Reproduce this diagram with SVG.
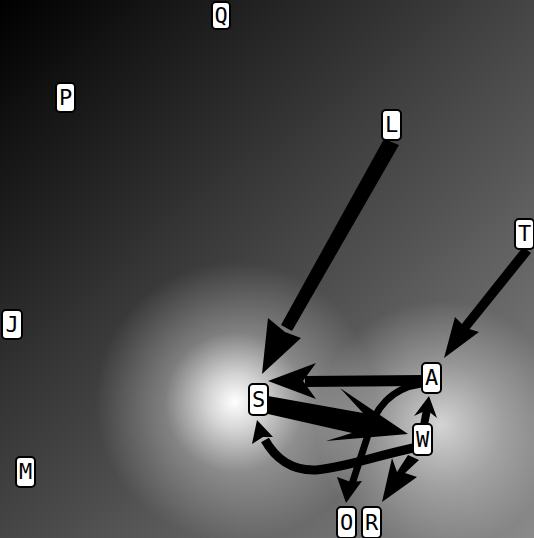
<svg xmlns="http://www.w3.org/2000/svg" width="534" height="538" viewBox="0 0 534 538">
<defs>
<linearGradient id="bg" x1="0" y1="0" x2="534" y2="538" gradientUnits="userSpaceOnUse">
<stop offset="0" stop-color="#000"/>
<stop offset="0.5" stop-color="#454545"/>
<stop offset="1" stop-color="#8a8a8a"/>
</linearGradient>
<radialGradient id="g1" cx="235" cy="402" r="140" gradientUnits="userSpaceOnUse">
<stop offset="0" stop-color="#fff" stop-opacity="1"/>
<stop offset="0.2" stop-color="#fff" stop-opacity="0.75"/>
<stop offset="0.5" stop-color="#fff" stop-opacity="0.3"/>
<stop offset="1" stop-color="#fff" stop-opacity="0"/>
</radialGradient>
<radialGradient id="g2" cx="440" cy="425" r="125" gradientUnits="userSpaceOnUse">
<stop offset="0" stop-color="#fff" stop-opacity="0.7"/>
<stop offset="0.5" stop-color="#fff" stop-opacity="0.3"/>
<stop offset="1" stop-color="#fff" stop-opacity="0"/>
</radialGradient>
</defs>
<style>
.box{fill:#fff;stroke:#000;stroke-width:2}
.lbl{font-family:"DejaVu Sans Mono","Liberation Mono",monospace;font-size:22px;fill:#000;text-anchor:middle}
.ln{fill:none;stroke:#000;stroke-linecap:butt}
.ah{fill:#000;stroke:none}
</style>
<rect x="0" y="0" width="534" height="538" fill="url(#bg)"/>
<rect x="0" y="0" width="534" height="538" fill="url(#g1)"/>
<rect x="0" y="0" width="534" height="538" fill="url(#g2)"/>

<g id="connectors">
<!-- L -> S -->
<polygon class="ah" points="384,139 399,145 292,331 281,325"/>
<polygon class="ah" points="262,374 268,318 285,332 301,338"/>
<!-- T -> A -->
<polygon class="ah" points="523,247 531,253 468,331 461,325"/>
<polygon class="ah" points="444,358 455,317 466,328 479,332"/>
<!-- A -> S -->
<polygon class="ah" points="422,375 422,386 305,387 305,376"/>
<polygon class="ah" points="268,381 316,363 303,381 316,399"/>
<!-- S -> W -->
<polygon class="ah" points="268,396 363,413 340,388 408,434 326,441 352,433 268,414"/>
<!-- A -> O -->
<path class="ln" d="M421,384 C392,388 374,408 367,438 L352,484" stroke-width="7"/>
<polygon class="ah" points="346,503 337,477 351,482 362,481"/>
<!-- W -> S -->
<path class="ln" d="M413,448 C372,457 342,468 316,470 C292,471 275,458 265,440" stroke-width="9"/>
<polygon class="ah" points="257,420 273,437 263,437 252,444"/>
<!-- W -> A -->
<polygon class="ah" points="420,425 428,425 431,410 423,409"/>
<polygon class="ah" points="429,396 437,418 427,410 414,416"/>
<!-- W -> R -->
<polygon class="ah" points="408,455 419,460 405,473 417,477 382,502 392,458 397,472"/>
</g>

<g id="node-Q"><rect class="box" x="212" y="2" width="18" height="27" rx="4"/><text class="lbl" x="221" y="23">Q</text></g>
<g id="node-P"><rect class="box" x="56" y="83" width="19" height="29" rx="4"/><text class="lbl" x="65.5" y="105">P</text></g>
<g id="node-L"><rect class="box" x="382" y="110" width="19" height="30" rx="4"/><text class="lbl" x="391.5" y="132">L</text></g>
<g id="node-T"><rect class="box" x="515" y="219" width="19" height="30" rx="4"/><text class="lbl" x="524.5" y="241">T</text></g>
<g id="node-J"><rect class="box" x="2" y="310" width="20" height="29" rx="4"/><text class="lbl" x="12" y="332">J</text></g>
<g id="node-M"><rect class="box" x="16" y="457" width="19" height="30" rx="4"/><text class="lbl" x="25.5" y="479">M</text></g>
<g id="node-S"><rect class="box" x="249" y="384" width="19" height="31" rx="4"/><text class="lbl" x="258.5" y="407">S</text></g>
<g id="node-A"><rect class="box" x="422" y="363" width="19" height="30" rx="4"/><text class="lbl" x="431.5" y="385">A</text></g>
<g id="node-W"><rect class="box" x="413" y="424" width="19" height="31" rx="4"/><text class="lbl" x="422.5" y="447">W</text></g>
<g id="node-O"><rect class="box" x="337" y="507" width="19" height="31" rx="4"/><text class="lbl" x="346.5" y="530">O</text></g>
<g id="node-R"><rect class="box" x="362" y="507" width="19" height="31" rx="4"/><text class="lbl" x="371.5" y="530">R</text></g>
</svg>
